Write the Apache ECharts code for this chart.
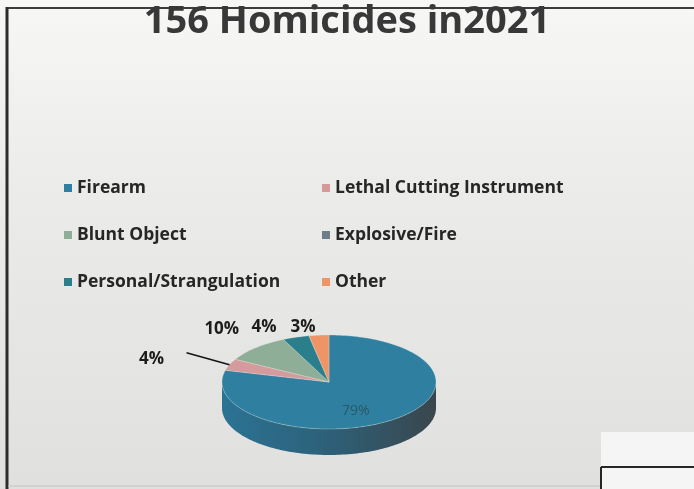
<!DOCTYPE html>
<html>
<head>
<meta charset="utf-8">
<script src="https://cdn.jsdelivr.net/npm/echarts@6/dist/echarts.min.js"></script>
<style>
html, body { margin: 0; padding: 0; background: #ececea; }
#chart { width: 694px; height: 489px; }
</style>
</head>
<body>
<div id="chart"></div>
<script>
// data
const categories = ['Firearm', 'Lethal Cutting Instrument', 'Blunt Object', 'Explosive/Fire', 'Personal/Strangulation', 'Other']
const percents = [79, 4, 10, 0, 4, 3]
const colors = ['#2f80a0', '#d49a9c', '#8fae98', '#707c88', '#2b7f8c', '#ee9466']
const sideColors = ['#2b7394', '#b07c7e', '#708c78', '#59636d', '#23697a', '#c87650']

// 3D pie geometry (px) and label placement
const pie = { cx: 329, cy: 382, rx: 107, ry: 47, depth: 26 }
const labelPlace = [
  { r: 0.5, dx: -6, dy: 10, inside: true },
  { r: 1, dx: -78, dy: -6, line: true },
  { r: 1, dx: -34, dy: -19 },
  { r: 1, dx: 0, dy: -14 },
  { r: 1, dx: -32, dy: -10 },
  { r: 1, dx: -16, dy: -8 }
]

const total = percents.reduce((a, b) => a + b, 0)
const cum = percents.map((v, i) => percents.slice(0, i).reduce((a, b) => a + b, 0))

// angle measured clockwise from 12 o'clock
function pt(a, k, dy) {
  return [pie.cx + pie.rx * k * Math.sin(a), pie.cy - pie.ry * k * Math.cos(a) + (dy || 0)]
}
function arc(a0, a1, dy) {
  const n = Math.max(2, Math.ceil((a1 - a0) / (Math.PI / 120)))
  const out = []
  for (let j = 0; j <= n; j++) out.push(pt(a0 + (a1 - a0) * j / n, 1, dy))
  return out
}

function renderSlice(params, api) {
  const i = params.seriesIndex
  const v = api.value(0)
  if (!v) return
  const color = colors[i]
  const a0 = cum[i] / total * Math.PI * 2
  const a1 = a0 + v / total * Math.PI * 2
  const children = []

  // visible front wall
  const b0 = Math.max(a0, Math.PI / 2)
  const b1 = Math.min(a1, Math.PI * 1.5)
  if (b1 > b0) {
    const top = arc(b0, b1, 0)
    const bottom = arc(b0, b1, pie.depth).reverse()
    children.push({
      type: 'polygon',
      shape: { points: top.concat(bottom) },
      style: {
        fill: {
          type: 'linear', x: 0, y: 0, x2: 1, y2: 0,
          colorStops: [
            { offset: 0, color: sideColors[i] },
            { offset: 0.5, color: '#2d6078' },
            { offset: 1, color: '#3a464d' }
          ]
        }
      }
    })
  }

  // top face
  children.push({
    type: 'polygon',
    shape: { points: [[pie.cx, pie.cy]].concat(arc(a0, a1, 0)) },
    style: { fill: color, stroke: 'rgba(230,230,225,0.5)', lineWidth: 0.6 }
  })

  // label
  const lp = labelPlace[i]
  const mid = (a0 + a1) / 2
  const anchor = pt(mid, lp.r, 0)
  const lx = anchor[0] + lp.dx
  const ly = anchor[1] + lp.dy
  if (lp.line) {
    children.push({
      type: 'polyline',
      shape: { points: [pt(mid, 1, 0), [lx + 35, ly - 6]] },
      style: { stroke: '#151515', lineWidth: 1.6, fill: null }
    })
  }
  children.push({
    type: 'text',
    style: {
      text: Math.round(v / total * 100) + '%',
      x: lx, y: ly,
      align: 'center', verticalAlign: 'middle',
      fontFamily: 'Open Sans',
      fontSize: lp.inside ? 14 : 17,
      fontWeight: lp.inside ? 'normal' : 'bold',
      fill: lp.inside ? '#2a5868' : '#1c1c1c'
    }
  })
  return { type: 'group', children }
}

const chart = echarts.init(document.getElementById('chart'))

const legendText = { fontFamily: 'Open Sans', fontSize: 17.5, fontWeight: 'bold', color: '#262626', lineHeight: 20 }

chart.setOption({
  animation: false,
  backgroundColor: {
    type: 'linear', x: 0, y: 0, x2: 0, y2: 1,
    colorStops: [{ offset: 0, color: '#f7f7f6' }, { offset: 0.4, color: '#ebebea' }, { offset: 1, color: '#e0e0de' }]
  },
  color: colors,
  title: {
    text: '156 Homicides in2021',
    left: 'center',
    top: -2,
    textStyle: { fontFamily: 'Open Sans', fontSize: 38, fontWeight: 'bold', color: '#383838' }
  },
  legend: [
    {
      data: [categories[0], categories[2], categories[4]],
      orient: 'vertical', left: 59, top: 173,
      icon: 'rect', itemWidth: 8, itemHeight: 8, itemGap: 27,
      selectedMode: false, textStyle: legendText
    },
    {
      data: [categories[1], categories[3], categories[5]],
      orient: 'vertical', left: 317, top: 173,
      icon: 'rect', itemWidth: 8, itemHeight: 8, itemGap: 27,
      selectedMode: false, textStyle: legendText
    }
  ],
  graphic: [
    // slide frame and scan edges
    { type: 'line', shape: { x1: 7, y1: 8, x2: 694, y2: 8 }, style: { stroke: '#3c3c3c', lineWidth: 2 } },
    { type: 'line', shape: { x1: 7, y1: 7, x2: 7, y2: 489 }, style: { stroke: '#2c2c2c', lineWidth: 3 } },
    { type: 'line', shape: { x1: 8, y1: 486, x2: 600, y2: 486 }, style: { stroke: '#c4c4c4', lineWidth: 1 } },
    { type: 'rect', shape: { x: 601, y: 432, width: 93, height: 57 }, style: { fill: '#f5f5f5' } },
    { type: 'line', shape: { x1: 601, y1: 467, x2: 694, y2: 467 }, style: { stroke: '#262626', lineWidth: 2 } },
    { type: 'line', shape: { x1: 601, y1: 467, x2: 601, y2: 489 }, style: { stroke: '#262626', lineWidth: 2 } }
  ],
  series: categories.map((name, i) => ({
    type: 'custom',
    name,
    coordinateSystem: 'none',
    itemStyle: { color: colors[i] },
    renderItem: renderSlice,
    data: [percents[i]]
  }))
})
</script>
</body>
</html>
